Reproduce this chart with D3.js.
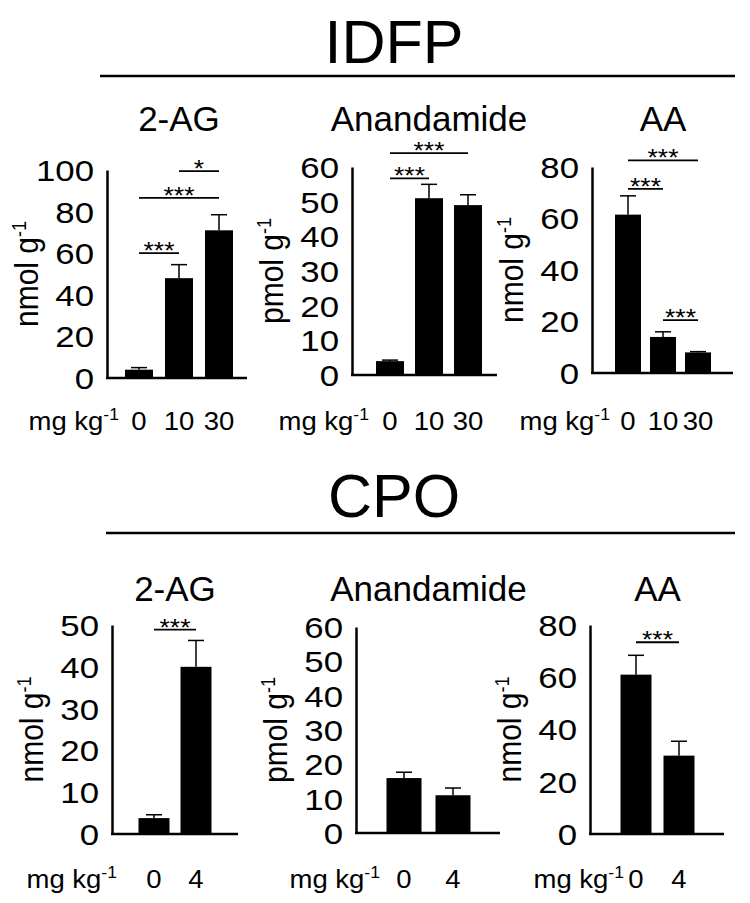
<!DOCTYPE html>
<html lang="en">
<head>
    <meta charset="UTF-8">
    <title>IDFP / CPO endocannabinoid levels</title>
    <script src="https://d3js.org/d3.v7.min.js"></script>
    <style>
        body {
            margin: 0;
            padding: 0;
            background-color: #fff;
        }
        svg {
            display: block;
            font-family: "Liberation Sans", Arial, sans-serif;
        }
    </style>
</head>
<body>
    <svg id="chart" width="750" height="903"></svg>

    <script>
        // ---- data ----
        const groupNames = ["IDFP", "CPO"];
        const panelTitles = ["2-AG", "Anandamide", "AA"];
        const panelUnits = ["nmol g", "pmol g", "nmol g"];

        const idfpDoses = ["0", "10", "30"];
        const idfpMeans = [[4, 48, 71], [4, 51, 49], [61.5, 14, 8]];
        const idfpErrors = [[1, 6.5, 7.5], [0.3, 4, 3], [7.3, 2, 0.3]];
        const idfpTicks = [[0, 20, 40, 60, 80, 100], [0, 10, 20, 30, 40, 50, 60], [0, 20, 40, 60, 80]];
        // [from bar, to bar, label, height in y units]
        const idfpSig = [
            [[0, 1, "***", 60], [0, 2, "***", 86.6], [1, 2, "*", 99.5]],
            [[0, 1, "***", 56.7], [0, 2, "***", 64]],
            [[0, 1, "***", 71.5], [0, 2, "***", 82.6], [1, 2, "***", 20.5]]
        ];

        const cpoDoses = ["0", "4"];
        const cpoMeans = [[3.8, 40], [16, 11], [61, 30]];
        const cpoErrors = [[0.8, 6.3], [1.7, 2.1], [7.4, 5.5]];
        const cpoTicks = [[0, 10, 20, 30, 40, 50], [0, 10, 20, 30, 40, 50, 60], [0, 20, 40, 60, 80]];
        const cpoSig = [
            [[0, 1, "***", 48.9]],
            [],
            [[0, 1, "***", 73.4]]
        ];

        // ---- layout ----
        const SX = 1.2;   // tick numbers in the original are drawn a bit wide
        const SXL = 1.1;  // dose labels
        const headers = [
            { cx: 394, base: 63, lineY: 76, x1: 100, x2: 735 },
            { cx: 394, base: 517, lineY: 533, x1: 106, x2: 735 }
        ];
        // axisX, top of y range, zero line, end of x axis, first bar centre, step, bar width, "mg kg" end
        const topLayout = [
            { ax: 107, top: 170, zero: 378, xEnd: 247, c0: 139, step: 40, bw: 28, mgEnd: 119 },
            { ax: 352, top: 167, zero: 375, xEnd: 497, c0: 390, step: 39, bw: 28, mgEnd: 369 },
            { ax: 592, top: 167, zero: 373, xEnd: 733, c0: 628, step: 35, bw: 26, mgEnd: 610 }
        ];
        const bottomLayout = [
            { ax: 112, top: 625, zero: 834, xEnd: 238, c0: 154, step: 42, bw: 31, mgEnd: 117 },
            { ax: 356, top: 627, zero: 833, xEnd: 500, c0: 404, step: 49, bw: 35, mgEnd: 380 },
            { ax: 590, top: 625, zero: 834, xEnd: 724, c0: 636, step: 43, bw: 31, mgEnd: 624 }
        ];
        const rows = [
            { doses: idfpDoses, means: idfpMeans, errors: idfpErrors, ticks: idfpTicks, sig: idfpSig, layout: topLayout, titleBase: 131, labelBase: 430 },
            { doses: cpoDoses, means: cpoMeans, errors: cpoErrors, ticks: cpoTicks, sig: cpoSig, layout: bottomLayout, titleBase: 601, labelBase: 888 }
        ];

        const svg = d3.select("#chart");

        // text placed at x,y, optionally widened horizontally
        function label(parent, x, y, size, sx, extra) {
            return parent.append("text")
                .attr("transform", `translate(${x},${y}) scale(${sx},1)` + (extra || ""))
                .attr("font-size", size);
        }

        // group headers with rule underneath
        headers.forEach((h, i) => {
            svg.append("text")
                .attr("x", h.cx)
                .attr("y", h.base)
                .attr("text-anchor", "middle")
                .attr("font-size", 61)
                .text(groupNames[i]);
            svg.append("line")
                .attr("x1", h.x1).attr("x2", h.x2)
                .attr("y1", h.lineY).attr("y2", h.lineY)
                .attr("stroke", "#000")
                .attr("stroke-width", 2.5);
        });

        rows.forEach(row => {
            row.layout.forEach((L, p) => {
                const g = svg.append("g");
                const n = row.doses.length;
                const yMax = d3.max(row.ticks[p]);

                const x = d3.scaleBand()
                    .domain(row.doses)
                    .range([L.c0 - L.step / 2, L.c0 + (n - 0.5) * L.step])
                    .paddingInner(1 - L.bw / L.step)
                    .paddingOuter((1 - L.bw / L.step) / 2);
                const y = d3.scaleLinear().domain([0, yMax]).range([L.zero, L.top]);
                const cx = d => x(d) + x.bandwidth() / 2;

                const bars = row.doses.map((d, i) => ({ dose: d, mean: row.means[p][i], err: row.errors[p][i] }));

                // bars
                g.selectAll("rect.bar")
                    .data(bars)
                    .join("rect")
                    .attr("class", "bar")
                    .attr("x", d => x(d.dose))
                    .attr("width", x.bandwidth())
                    .attr("y", d => y(d.mean))
                    .attr("height", d => y(0) - y(d.mean))
                    .attr("fill", "#000");

                // upper error whiskers
                g.selectAll("line.err")
                    .data(bars)
                    .join("line")
                    .attr("class", "err")
                    .attr("x1", d => cx(d.dose)).attr("x2", d => cx(d.dose))
                    .attr("y1", d => y(d.mean)).attr("y2", d => y(d.mean + d.err))
                    .attr("stroke", "#000").attr("stroke-width", 1.5);
                g.selectAll("line.cap")
                    .data(bars)
                    .join("line")
                    .attr("class", "cap")
                    .attr("x1", d => cx(d.dose) - 8).attr("x2", d => cx(d.dose) + 8)
                    .attr("y1", d => y(d.mean + d.err)).attr("y2", d => y(d.mean + d.err))
                    .attr("stroke", "#000").attr("stroke-width", 1.5);

                // y axis
                const yAxis = g.append("g")
                    .attr("transform", `translate(${L.ax},0)`)
                    .call(d3.axisLeft(y).tickValues(row.ticks[p]).tickSize(0).tickSizeOuter(0));
                yAxis.select(".domain").attr("stroke-width", 2.5);
                yAxis.selectAll(".tick text")
                    .attr("x", 0)
                    .attr("transform", `translate(-13,0) scale(${SX},1)`)
                    .attr("font-size", 29)
                    .attr("font-family", "\"Liberation Sans\", Arial, sans-serif")
                    .attr("fill", "#000")
                    .attr("dy", "0.36em");

                // x axis line
                g.append("line")
                    .attr("x1", L.ax - 1).attr("x2", L.xEnd)
                    .attr("y1", L.zero).attr("y2", L.zero)
                    .attr("stroke", "#000").attr("stroke-width", 2.5);

                // dose labels
                const xAxis = g.append("g")
                    .attr("transform", `translate(0,${row.labelBase})`)
                    .call(d3.axisBottom(x).tickSize(0));
                xAxis.select(".domain").remove();
                xAxis.selectAll(".tick text")
                    .attr("y", 0).attr("dy", 0)
                    .attr("transform", `scale(${SXL},1)`)
                    .attr("font-size", 25)
                    .attr("font-family", "\"Liberation Sans\", Arial, sans-serif")
                    .attr("fill", "#000");

                const mg = label(g, L.mgEnd, row.labelBase, 25, SXL).attr("text-anchor", "end");
                mg.append("tspan").text("mg kg");
                mg.append("tspan").attr("dy", -10).attr("font-size", 16).text("-1");

                // y label
                const yl = label(g, L.ax - 69, (L.top + L.zero) / 2, 30, 1.1, " rotate(-90)")
                    .attr("text-anchor", "middle");
                yl.append("tspan").text(panelUnits[p]);
                yl.append("tspan").attr("dy", -11).attr("font-size", 18).text("-1");

                // panel title
                label(g, (cx(row.doses[0]) + cx(row.doses[n - 1])) / 2, row.titleBase, 35, 1)
                    .attr("text-anchor", "middle")
                    .text(panelTitles[p]);

                // significance bars
                row.sig[p].forEach(s => {
                    const a = cx(row.doses[s[0]]), b = cx(row.doses[s[1]]);
                    g.append("line")
                        .attr("x1", a).attr("x2", b)
                        .attr("y1", y(s[3])).attr("y2", y(s[3]))
                        .attr("stroke", "#000").attr("stroke-width", 1.8);
                    label(g, (a + b) / 2, y(s[3]) + 6, 23, 1.15)
                        .attr("text-anchor", "middle")
                        .text(s[2]);
                });
            });
        });
    </script>
</body>
</html>
